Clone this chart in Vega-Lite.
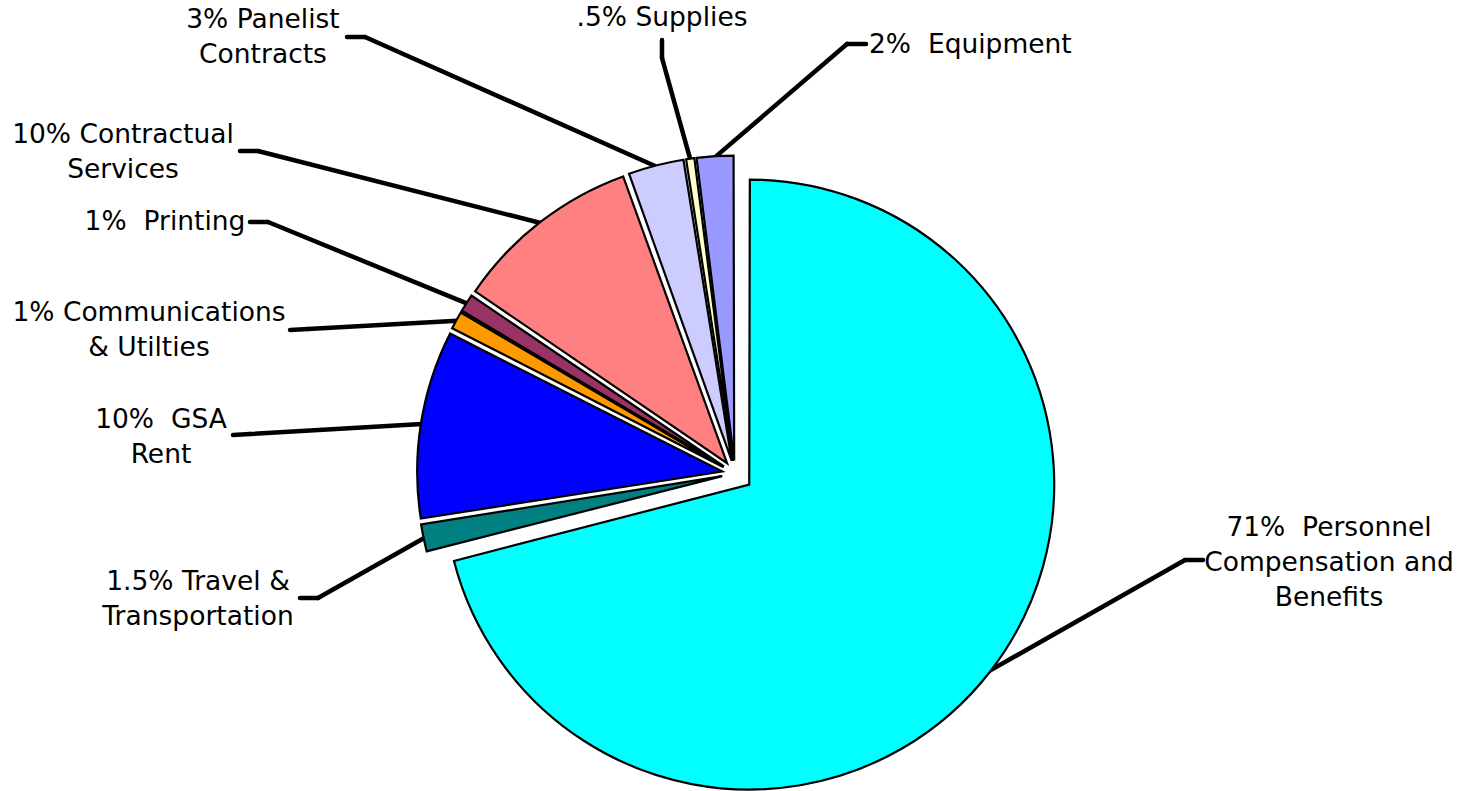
{
  "$schema": "https://vega.github.io/schema/vega-lite/v6.json",
  "width": 1465,
  "height": 791,
  "autosize": {"type": "fit", "contains": "padding"},
  "padding": 0,
  "background": "white",
  "config": {"view": {"stroke": null}},
  "data": {
    "values": [
      {"order": 1, "category": "Personnel Compensation and Benefits", "pct": 71, "label": "71%\u00a0 Personnel\nCompensation and\nBenefits", "tx": 1329, "ty": 528, "ex": 1185, "ey": 560, "hx": 1203, "hy": 560},
      {"order": 2, "category": "Travel & Transportation", "pct": 1.5, "label": "1.5% Travel &\nTransportation", "tx": 198, "ty": 582, "ex": 318, "ey": 598, "hx": 300, "hy": 598},
      {"order": 3, "category": "GSA Rent", "pct": 10, "label": "10%\u00a0 GSA\nRent", "tx": 161, "ty": 420, "ex": 250, "ey": 434, "hx": 233, "hy": 435},
      {"order": 4, "category": "Communications & Utilties", "pct": 1, "label": "1% Communications\n& Utilties", "tx": 149, "ty": 313, "ex": 308, "ey": 329, "hx": 290, "hy": 330},
      {"order": 5, "category": "Printing", "pct": 1, "label": "1%\u00a0 Printing", "tx": 165, "ty": 222, "ex": 268, "ey": 222, "hx": 250, "hy": 222},
      {"order": 6, "category": "Contractual Services", "pct": 10, "label": "10% Contractual\nServices", "tx": 123, "ty": 135, "ex": 258, "ey": 151, "hx": 240, "hy": 151},
      {"order": 7, "category": "Panelist Contracts", "pct": 3, "label": "3% Panelist\nContracts", "tx": 263, "ty": 20, "ex": 365, "ey": 37, "hx": 347, "hy": 37},
      {"order": 8, "category": "Supplies", "pct": 0.5, "label": ".5% Supplies", "tx": 662, "ty": 18, "ex": 662, "ey": 58, "hx": 662, "hy": 40},
      {"order": 9, "category": "Equipment", "pct": 2, "label": "2%\u00a0 Equipment", "tx": 869, "ty": 45, "ex": 847, "ey": 44, "hx": 866, "hy": 44}
    ]
  },
  "transform": [
    {"stack": "pct", "groupby": [], "sort": [{"field": "order"}], "as": ["p0", "p1"]},
    {"calculate": "PI * (datum.p0 + datum.p1) / 100", "as": "mid"},
    {"calculate": "datum.order == 1 ? 18 : 13", "as": "shift"},
    {"calculate": "735 + datum.shift * sin(datum.mid)", "as": "cx"},
    {"calculate": "473.5 - datum.shift * cos(datum.mid)", "as": "cy"},
    {"calculate": "datum.cx + 304 * sin(datum.mid)", "as": "sx"},
    {"calculate": "datum.cy - 304 * cos(datum.mid)", "as": "sy"}
  ],
  "layer": [
    {
      "mark": {"type": "rule", "stroke": "black", "strokeWidth": 4.5, "strokeCap": "round"},
      "encoding": {
        "x": {"field": "sx", "type": "quantitative", "scale": null},
        "y": {"field": "sy", "type": "quantitative", "scale": null},
        "x2": {"field": "ex"},
        "y2": {"field": "ey"}
      }
    },
    {
      "mark": {"type": "rule", "stroke": "black", "strokeWidth": 4.5, "strokeCap": "round"},
      "encoding": {
        "x": {"field": "ex", "type": "quantitative", "scale": null},
        "y": {"field": "ey", "type": "quantitative", "scale": null},
        "x2": {"field": "hx"},
        "y2": {"field": "hy"}
      }
    },
    {
      "mark": {"type": "arc", "outerRadius": 305, "stroke": "black", "strokeWidth": 2.2, "padAngle": 0.004},
      "encoding": {
        "theta": {"field": "p0", "type": "quantitative", "stack": null, "scale": {"domain": [0, 100], "range": [0, 6.283185307]}},
        "theta2": {"field": "p1"},
        "x": {"field": "cx", "type": "quantitative", "scale": null},
        "y": {"field": "cy", "type": "quantitative", "scale": null},
        "color": {
          "field": "category",
          "type": "nominal",
          "legend": null,
          "scale": {
            "domain": ["Personnel Compensation and Benefits", "Travel & Transportation", "GSA Rent", "Communications & Utilties", "Printing", "Contractual Services", "Panelist Contracts", "Supplies", "Equipment"],
            "range": ["#00FFFF", "#008080", "#0000FF", "#FF9900", "#993366", "#FF8080", "#CCCCFF", "#FFFFCC", "#9999FF"]
          }
        }
      }
    },
    {
      "transform": [{"filter": "datum.order != 9"}],
      "mark": {"type": "text", "font": "DejaVu Sans", "fontSize": 26.5, "lineHeight": 35, "lineBreak": "\n", "align": "center", "baseline": "middle", "color": "black"},
      "encoding": {
        "x": {"field": "tx", "type": "quantitative", "scale": null},
        "y": {"field": "ty", "type": "quantitative", "scale": null},
        "text": {"field": "label"}
      }
    },
    {
      "transform": [{"filter": "datum.order == 9"}],
      "mark": {"type": "text", "font": "DejaVu Sans", "fontSize": 26.5, "lineHeight": 35, "lineBreak": "\n", "align": "left", "baseline": "middle", "color": "black"},
      "encoding": {
        "x": {"field": "tx", "type": "quantitative", "scale": null},
        "y": {"field": "ty", "type": "quantitative", "scale": null},
        "text": {"field": "label"}
      }
    }
  ]
}
